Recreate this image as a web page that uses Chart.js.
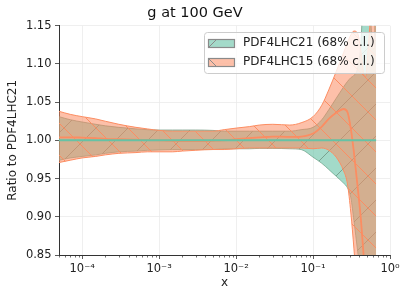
<!DOCTYPE html>
<html><head><meta charset="utf-8">
<script src="https://cdn.jsdelivr.net/npm/chart.js@4.4.1/dist/chart.umd.min.js"></script>
<style>html,body{margin:0;padding:0;background:#fff;}canvas{display:block;}</style>
</head><body>
<canvas id="c" width="407" height="299"></canvas>
<script>
// ---- data ----
const X = [5e-5, 7e-5, 1e-4, 1.5e-4, 2e-4, 3e-4, 5e-4, 7e-4, 1e-3, 1.5e-3, 2e-3, 3e-3, 5e-3, 7e-3,
  1e-2, 1.5e-2, 2e-2, 3e-2, 5e-2, 7e-2, 0.1, 0.13, 0.16, 0.2, 0.25, 0.28, 0.31, 0.34, 0.38, 0.42,
  0.45, 0.48, 0.52, 0.56, 0.6, 0.63, 0.66];
const PDF4LHC21_CENTRAL = [1,1,1,1,1,1,1,1,1,1,1,1,1,1,1,1,1,1,1,1,1,1,1,1,1,1,1,1,1,1,1,1,1,1,1,1,1];
const PDF4LHC21_UP = [1.031,1.027,1.024,1.021,1.019,1.017,1.015,1.014,1.0135,1.0135,1.0135,1.0135,1.013,1.012,
  1.012,1.012,1.012,1.012,1.012,1.014,1.017,1.027,1.040,1.055,1.070,1.077,1.082,1.085,1.095,1.13,
  1.20,1.26,1.22,1.16,1.12,1.12,1.60];
const PDF4LHC21_LOW = [0.974,0.977,0.979,0.981,0.983,0.985,0.986,0.987,0.9875,0.988,0.988,0.988,0.988,0.989,
  0.989,0.989,0.9895,0.9895,0.989,0.988,0.978,0.970,0.962,0.953,0.944,0.938,0.925,0.895,0.855,0.82,
  0.79,0.75,0.70,0.64,0.57,0.50,0.30];
const PDF4LHC15_CENTRAL = [1.004,1.004,1.0035,1.003,1.002,1.0015,1.001,1.0005,1.000,0.9995,0.999,0.999,0.9995,1.000,
  1.0015,1.003,1.004,1.005,1.0045,1.005,1.009,1.018,1.028,1.036,1.041,1.037,1.015,0.984,0.939,0.895,
  0.855,0.81,0.75,0.69,0.63,0.58,0.53];
const PDF4LHC15_UP = [1.038,1.034,1.031,1.028,1.025,1.021,1.017,1.015,1.013,1.012,1.012,1.012,1.012,1.014,
  1.016,1.018,1.020,1.021,1.020,1.023,1.031,1.046,1.066,1.090,1.115,1.128,1.138,1.143,1.140,1.115,
  1.090,1.083,1.120,1.170,1.25,1.35,1.80];
const PDF4LHC15_LOW = [0.971,0.974,0.977,0.979,0.981,0.983,0.984,0.985,0.985,0.985,0.986,0.987,0.988,0.988,
  0.989,0.990,0.990,0.990,0.990,0.990,0.989,0.990,0.987,0.978,0.960,0.943,0.905,0.858,0.79,0.72,
  0.67,0.62,0.57,0.52,0.47,0.42,0.20];
const SERIES_LABELS = ['PDF4LHC21 (68% c.l.)', 'PDF4LHC15 (68% c.l.)'];
const X_TICKS = [1e-4, 1e-3, 1e-2, 1e-1, 1];
const X_TICK_LABELS = ['10\u207B\u2074', '10\u207B\u00B3', '10\u207B\u00B2', '10\u207B\u00B9', '10\u2070'];
const Y_TICKS = [0.85, 0.90, 0.95, 1.00, 1.05, 1.10, 1.15];

// ---- styles ----
const TEAL = '#66c2a5', ORANGE = '#fc8d62';
const TEAL_FILL = 'rgba(102,194,165,0.6)', ORANGE_FILL = 'rgba(252,141,98,0.55)';
const TEAL_HATCH = 'rgba(95,125,105,0.6)';
const TEAL_EDGE = 'rgba(110,150,125,0.75)';
const FONT = 'DejaVu Sans';
Chart.defaults.font.family = FONT;
Chart.defaults.color = '#222';

function hatch(fill, line, dir, s) {
  const c = document.createElement('canvas'); c.width = c.height = s;
  const g = c.getContext('2d');
  g.fillStyle = fill; g.fillRect(0, 0, s, s);
  g.strokeStyle = line; g.lineWidth = 1;
  g.beginPath();
  for (const o of [-s, 0, s]) {
    if (dir === '/') { g.moveTo(o, s); g.lineTo(o + s, 0); }
    else { g.moveTo(o, 0); g.lineTo(o + s, s); }
  }
  g.stroke();
  return g.createPattern(c, 'repeat');
}
const tealPattern = hatch(TEAL_FILL, TEAL_HATCH, '/', 32);
const orangePattern = hatch(ORANGE_FILL, ORANGE, '\\', 32);

const pts = ys => X.map((x, i) => ({x: x, y: ys[i]}));

const minorTicks = {
  id: 'minorTicks',
  afterDraw(chart) {
    const xs = chart.scales.x, ctx = chart.ctx, y0 = chart.chartArea.bottom;
    ctx.save(); ctx.strokeStyle = '#333'; ctx.lineWidth = 0.7;
    for (let e = -5; e <= 0; e++) for (let k = 2; k <= 9; k++) {
      const v = k * Math.pow(10, e);
      if (v < xs.min || v > xs.max) continue;
      const px = Math.round(xs.getPixelForValue(v)) + 0.5;
      ctx.beginPath(); ctx.moveTo(px, y0); ctx.lineTo(px, y0 + 2.5); ctx.stroke();
    }
    ctx.restore();
  }
};

const boxLegend = {
  id: 'boxLegend',
  afterDraw(chart) {
    const ctx = chart.ctx;
    const L = 204.5, T = 32.5, W = 180, H = 41, r = 3;
    ctx.save();
    ctx.beginPath();
    ctx.moveTo(L + r, T); ctx.lineTo(L + W - r, T); ctx.quadraticCurveTo(L + W, T, L + W, T + r);
    ctx.lineTo(L + W, T + H - r); ctx.quadraticCurveTo(L + W, T + H, L + W - r, T + H);
    ctx.lineTo(L + r, T + H); ctx.quadraticCurveTo(L, T + H, L, T + H - r);
    ctx.lineTo(L, T + r); ctx.quadraticCurveTo(L, T, L + r, T); ctx.closePath();
    ctx.fillStyle = 'rgba(255,255,255,0.8)'; ctx.fill();
    ctx.strokeStyle = '#cccccc'; ctx.lineWidth = 1; ctx.stroke();
    const entries = [
      {fill: TEAL_FILL, dir: '/', cy: 42.5, text: SERIES_LABELS[0]},
      {fill: ORANGE_FILL, dir: '\\', cy: 61.7, text: SERIES_LABELS[1]}
    ];
    for (const e of entries) {
      const px = 208.5, py = Math.round(e.cy - 4) + 0.5, pw = 26, ph = 8;
      ctx.fillStyle = e.fill; ctx.fillRect(px, py, pw, ph);
      ctx.save(); ctx.beginPath(); ctx.rect(px, py, pw, ph); ctx.clip();
      ctx.strokeStyle = '#8a8a8a'; ctx.lineWidth = 1; ctx.beginPath();
      if (e.dir === '/') { ctx.moveTo(px, py + ph); ctx.lineTo(px + ph, py); }
      else { ctx.moveTo(px, py); ctx.lineTo(px + ph, py + ph); }
      ctx.stroke(); ctx.restore();
      ctx.strokeStyle = '#8a8a8a'; ctx.lineWidth = 1.2; ctx.strokeRect(px, py, pw, ph);
      ctx.fillStyle = '#222'; ctx.font = '12px "' + FONT + '"';
      ctx.textBaseline = 'middle'; ctx.textAlign = 'left';
      ctx.fillText(e.text, 243, e.cy + 0.5);
    }
    ctx.restore();
  }
};

const lineBase = {pointRadius: 0, pointHoverRadius: 0, cubicInterpolationMode: 'monotone'};

new Chart(document.getElementById('c'), {
  type: 'line',
  data: {
    datasets: [
      Object.assign({label: 'PDF4LHC21 central', data: pts(PDF4LHC21_CENTRAL), borderColor: TEAL, borderWidth: 2, fill: false}, lineBase),
      Object.assign({label: 'PDF4LHC15 central', data: pts(PDF4LHC15_CENTRAL), borderColor: ORANGE, borderWidth: 1.8, fill: false}, lineBase),
      Object.assign({label: SERIES_LABELS[1], data: pts(PDF4LHC15_UP), borderColor: ORANGE, borderWidth: 1, backgroundColor: orangePattern, fill: '+1'}, lineBase),
      Object.assign({label: 'PDF4LHC15 low', data: pts(PDF4LHC15_LOW), borderColor: ORANGE, borderWidth: 1, fill: false}, lineBase),
      Object.assign({label: SERIES_LABELS[0], data: pts(PDF4LHC21_UP), borderColor: TEAL_EDGE, borderWidth: 1, backgroundColor: tealPattern, fill: '+1'}, lineBase),
      Object.assign({label: 'PDF4LHC21 low', data: pts(PDF4LHC21_LOW), borderColor: TEAL_EDGE, borderWidth: 1, fill: false}, lineBase)
    ]
  },
  options: {
    responsive: false,
    animation: false,
    events: [],
    layout: {padding: {left: 0, right: 17, top: 0, bottom: 0}},
    plugins: {
      legend: {display: false},
      tooltip: {enabled: false},
      title: {display: true, text: 'g at 100 GeV', color: '#111', font: {size: 14.5, weight: 'normal', family: FONT}, padding: {top: 5, bottom: 3.3}}
    },
    scales: {
      x: {
        type: 'logarithmic', min: 5e-5, max: 1,
        afterFit: s => { s.height = 44; },
        afterBuildTicks: s => { s.ticks = X_TICKS.map(v => ({value: v, major: true})); },
        ticks: {
          autoSkip: false, maxRotation: 0, padding: 3.5, color: '#222',
          font: {size: 11.5, family: FONT},
          callback: v => { const i = X_TICKS.findIndex(t => Math.abs(Math.log10(t) - Math.log10(v)) < 1e-6); return i >= 0 ? X_TICK_LABELS[i] : ''; }
        },
        grid: {color: '#ebebeb', lineWidth: 0.8, tickColor: '#333', tickLength: 4, tickWidth: 0.8},
        border: {display: true, color: '#333', width: 1},
        title: {display: true, text: 'x', color: '#222', font: {size: 12, family: FONT}, padding: {top: 0, bottom: 9}}
      },
      y: {
        type: 'linear', min: 0.85, max: 1.15,
        afterFit: s => { s.width = 59; },
        afterBuildTicks: s => { s.ticks = Y_TICKS.map(v => ({value: v})); },
        ticks: {padding: 3.5, color: '#222', font: {size: 11.5, family: FONT}, callback: v => Number(v).toFixed(2)},
        grid: {color: '#ebebeb', lineWidth: 0.8, tickColor: '#333', tickLength: 4, tickWidth: 0.8},
        border: {display: true, color: '#333', width: 1},
        title: {display: true, text: 'Ratio to PDF4LHC21', color: '#222', font: {size: 12, family: FONT}, padding: {top: 6, bottom: 0}}
      }
    }
  },
  plugins: [minorTicks, boxLegend]
});
</script>
</body></html>
